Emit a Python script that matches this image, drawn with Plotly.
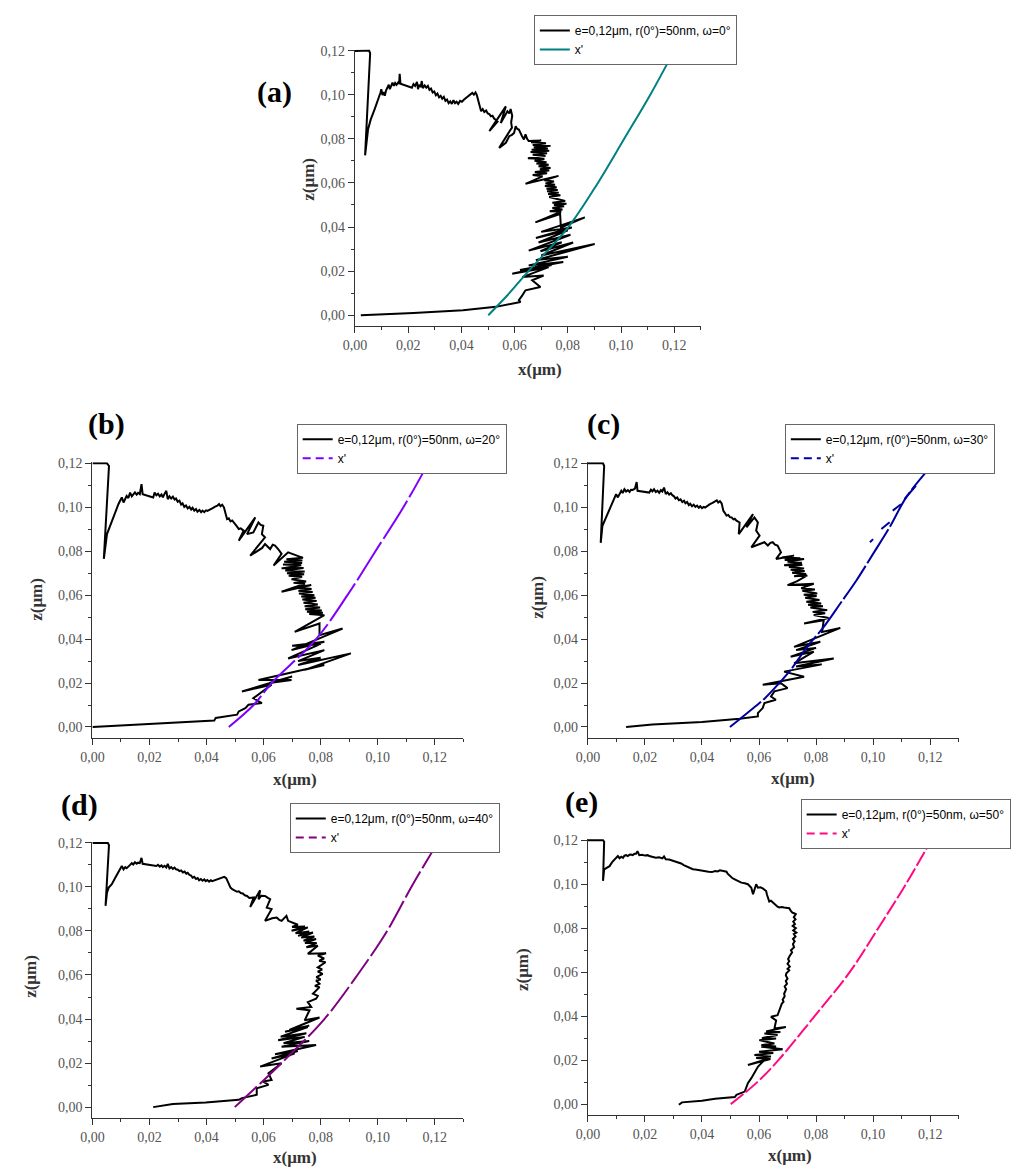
import plotly.graph_objects as go

# browser body margin (8 px) is compensated: the figure is drawn 8 px smaller
OFF = 8
W, H = 1021 - OFF, 1167 - OFF

# ---------------- data ----------------
x_tick_vals = [0.00, 0.02, 0.04, 0.06, 0.08, 0.10, 0.12]
x_tick_text = ["0,00", "0,02", "0,04", "0,06", "0,08", "0,10", "0,12"]
z_tick_vals = [0.00, 0.02, 0.04, 0.06, 0.08, 0.10, 0.12]
z_tick_text = ["0,00", "0,02", "0,04", "0,06", "0,08", "0,10", "0,12"]

omega_labels = ["0°", "20°", "30°", "40°", "50°"]
panel_letters = ["(a)", "(b)", "(c)", "(d)", "(e)"]

# (a) omega = 0
a_black = [
    (0.0000, 0.1198), (0.0053, 0.1200), (0.0057, 0.1188), (0.0038, 0.0725), (0.0049, 0.0842), (0.0059, 0.0887), (0.0074, 0.0935),
    (0.0090, 0.0985), (0.0096, 0.1010), (0.0099, 0.1025), (0.0103, 0.0998), (0.0108, 0.1012), (0.0112, 0.0995), (0.0117, 0.1020),
    (0.0122, 0.1030), (0.0127, 0.1045), (0.0131, 0.1025), (0.0136, 0.1040), (0.0141, 0.1055), (0.0146, 0.1040), (0.0151, 0.1053),
    (0.0156, 0.1045), (0.0162, 0.1055), (0.0166, 0.1050), (0.0168, 0.1095), (0.0171, 0.1050), (0.0214, 0.1032), (0.0220, 0.1048),
    (0.0226, 0.1040), (0.0233, 0.1058), (0.0237, 0.1025), (0.0241, 0.1045), (0.0247, 0.1035), (0.0251, 0.1062), (0.0255, 0.1030),
    (0.0262, 0.1042), (0.0268, 0.1032), (0.0274, 0.1040), (0.0280, 0.1022), (0.0286, 0.1028), (0.0292, 0.1010), (0.0298, 0.1015),
    (0.0304, 0.0998), (0.0310, 0.1005), (0.0316, 0.0988), (0.0322, 0.0995), (0.0328, 0.0982), (0.0334, 0.0990), (0.0340, 0.0972),
    (0.0346, 0.0978), (0.0352, 0.0962), (0.0358, 0.0970), (0.0364, 0.0958), (0.0370, 0.0975), (0.0376, 0.0962), (0.0382, 0.0968),
    (0.0388, 0.0958), (0.0395, 0.0972), (0.0402, 0.0968), (0.0410, 0.0978), (0.0418, 0.0985), (0.0426, 0.0995), (0.0434, 0.1000),
    (0.0441, 0.1008), (0.0447, 0.1000), (0.0453, 0.1010), (0.0458, 0.0998), (0.0461, 0.0985), (0.0466, 0.0960), (0.0469, 0.0942),
    (0.0474, 0.0925), (0.0480, 0.0935), (0.0486, 0.0922), (0.0493, 0.0928), (0.0499, 0.0915), (0.0505, 0.0912), (0.0511, 0.0902),
    (0.0517, 0.0905), (0.0523, 0.0892), (0.0530, 0.0885), (0.0536, 0.0878), (0.0505, 0.0835), (0.0567, 0.0947), (0.0548, 0.0872),
    (0.0560, 0.0895), (0.0573, 0.0925), (0.0580, 0.0915), (0.0585, 0.0935), (0.0591, 0.0905), (0.0587, 0.0875), (0.0590, 0.0850),
    (0.0585, 0.0842), (0.0542, 0.0759), (0.0567, 0.0782), (0.0575, 0.0800), (0.0580, 0.0812), (0.0590, 0.0818), (0.0598, 0.0827),
    (0.0604, 0.0857), (0.0610, 0.0845), (0.0616, 0.0842), (0.0622, 0.0825), (0.0628, 0.0812), (0.0635, 0.0797), (0.0641, 0.0820),
    (0.0647, 0.0800), (0.0653, 0.0790), (0.0700, 0.0792), (0.0662, 0.0784), (0.0718, 0.0780), (0.0668, 0.0772), (0.0735, 0.0768),
    (0.0672, 0.0762), (0.0725, 0.0756), (0.0664, 0.0750), (0.0730, 0.0746), (0.0660, 0.0740), (0.0722, 0.0734), (0.0668, 0.0728),
    (0.0716, 0.0722), (0.0650, 0.0712), (0.0712, 0.0708), (0.0675, 0.0700), (0.0720, 0.0694), (0.0682, 0.0688), (0.0728, 0.0682),
    (0.0690, 0.0676), (0.0735, 0.0668), (0.0695, 0.0662), (0.0730, 0.0656), (0.0676, 0.0650), (0.0722, 0.0644), (0.0668, 0.0636),
    (0.0705, 0.0630), (0.0641, 0.0596), (0.0765, 0.0632), (0.0712, 0.0612), (0.0748, 0.0606), (0.0716, 0.0598), (0.0752, 0.0592),
    (0.0714, 0.0586), (0.0758, 0.0580), (0.0720, 0.0574), (0.0762, 0.0568), (0.0722, 0.0562), (0.0766, 0.0556), (0.0726, 0.0550),
    (0.0772, 0.0544), (0.0730, 0.0536), (0.0790, 0.0518), (0.0742, 0.0510), (0.0795, 0.0506), (0.0748, 0.0500), (0.0786, 0.0494),
    (0.0742, 0.0486), (0.0780, 0.0480), (0.0732, 0.0472), (0.0775, 0.0470), (0.0678, 0.0421), (0.0771, 0.0459), (0.0774, 0.0398),
    (0.0864, 0.0444), (0.0700, 0.0378), (0.0815, 0.0398), (0.0680, 0.0350), (0.0800, 0.0385), (0.0690, 0.0330), (0.0810, 0.0365),
    (0.0653, 0.0293), (0.0777, 0.0331), (0.0697, 0.0290), (0.0820, 0.0330), (0.0700, 0.0271), (0.0901, 0.0323), (0.0680, 0.0250),
    (0.0800, 0.0265), (0.0653, 0.0226), (0.0783, 0.0241), (0.0620, 0.0205), (0.0740, 0.0228), (0.0591, 0.0188), (0.0728, 0.0218),
    (0.0629, 0.0173), (0.0709, 0.0180), (0.0666, 0.0158), (0.0697, 0.0128), (0.0662, 0.0120), (0.0641, 0.0113), (0.0629, 0.0090),
    (0.0616, 0.0068), (0.0622, 0.0060), (0.0567, 0.0045), (0.0530, 0.0038), (0.0406, 0.0023), (0.0220, 0.0010), (0.0022, 0.0000)]
a_xp_x = [0.0501, 0.0580, 0.0652, 0.0802, 0.0913, 0.1012, 0.1110, 0.1200]
a_xp_z = [0.000, 0.010, 0.020, 0.040, 0.060, 0.080, 0.100, 0.120]

# (b) omega = 20
b_black = [
    (0.0000, 0.1200), (0.0051, 0.1200), (0.0058, 0.1188), (0.0040, 0.0765), (0.0051, 0.0878), (0.0062, 0.0916), (0.0074, 0.0962),
    (0.0091, 0.1014), (0.0097, 0.1030), (0.0103, 0.1045), (0.0109, 0.1022), (0.0114, 0.1040), (0.0120, 0.1052), (0.0126, 0.1042),
    (0.0132, 0.1067), (0.0138, 0.1050), (0.0143, 0.1060), (0.0149, 0.1068), (0.0155, 0.1058), (0.0160, 0.1066), (0.0166, 0.1060),
    (0.0172, 0.1105), (0.0176, 0.1060), (0.0213, 0.1045), (0.0218, 0.1067), (0.0224, 0.1055), (0.0230, 0.1062), (0.0236, 0.1050),
    (0.0242, 0.1058), (0.0247, 0.1045), (0.0253, 0.1062), (0.0259, 0.1075), (0.0264, 0.1037), (0.0270, 0.1050), (0.0276, 0.1040),
    (0.0282, 0.1048), (0.0288, 0.1035), (0.0293, 0.1040), (0.0299, 0.1025), (0.0305, 0.1030), (0.0311, 0.1012), (0.0316, 0.1018),
    (0.0322, 0.1002), (0.0328, 0.1008), (0.0334, 0.0995), (0.0340, 0.1002), (0.0346, 0.0990), (0.0351, 0.0998), (0.0357, 0.0985),
    (0.0363, 0.0992), (0.0368, 0.0980), (0.0375, 0.0988), (0.0381, 0.0978), (0.0386, 0.0985), (0.0392, 0.0978), (0.0398, 0.0986),
    (0.0403, 0.0984), (0.0410, 0.0990), (0.0420, 0.0995), (0.0430, 0.1003), (0.0438, 0.1007), (0.0444, 0.1015), (0.0449, 0.1005),
    (0.0455, 0.1012), (0.0461, 0.1000), (0.0465, 0.0980), (0.0467, 0.0970), (0.0472, 0.0946), (0.0478, 0.0950), (0.0484, 0.0936),
    (0.0490, 0.0940), (0.0496, 0.0928), (0.0501, 0.0924), (0.0507, 0.0912), (0.0513, 0.0901), (0.0520, 0.0904), (0.0530, 0.0894),
    (0.0513, 0.0848), (0.0571, 0.0954), (0.0542, 0.0878), (0.0564, 0.0886), (0.0572, 0.0905), (0.0582, 0.0931), (0.0590, 0.0920),
    (0.0599, 0.0916), (0.0594, 0.0878), (0.0605, 0.0863), (0.0553, 0.0780), (0.0582, 0.0803), (0.0595, 0.0815), (0.0605, 0.0833),
    (0.0614, 0.0820), (0.0623, 0.0810), (0.0632, 0.0830), (0.0640, 0.0826), (0.0651, 0.0810), (0.0663, 0.0788), (0.0635, 0.0735),
    (0.0686, 0.0795), (0.0738, 0.0770), (0.0680, 0.0764), (0.0736, 0.0758), (0.0672, 0.0752), (0.0735, 0.0746), (0.0668, 0.0740),
    (0.0732, 0.0736), (0.0663, 0.0722), (0.0740, 0.0724), (0.0676, 0.0712), (0.0744, 0.0708), (0.0682, 0.0700), (0.0742, 0.0695),
    (0.0688, 0.0688), (0.0735, 0.0684), (0.0698, 0.0672), (0.0749, 0.0662), (0.0705, 0.0656), (0.0745, 0.0652), (0.0663, 0.0616),
    (0.0767, 0.0646), (0.0720, 0.0636), (0.0768, 0.0628), (0.0722, 0.0620), (0.0772, 0.0614), (0.0724, 0.0608), (0.0778, 0.0600),
    (0.0732, 0.0594), (0.0782, 0.0588), (0.0736, 0.0580), (0.0786, 0.0574), (0.0740, 0.0566), (0.0790, 0.0558), (0.0744, 0.0550),
    (0.0798, 0.0544), (0.0746, 0.0536), (0.0804, 0.0530), (0.0752, 0.0524), (0.0808, 0.0520), (0.0760, 0.0514), (0.0813, 0.0509),
    (0.0709, 0.0433), (0.0796, 0.0471), (0.0796, 0.0418), (0.0877, 0.0448), (0.0698, 0.0350), (0.0813, 0.0388), (0.0700, 0.0370),
    (0.0800, 0.0378), (0.0686, 0.0312), (0.0813, 0.0350), (0.0721, 0.0300), (0.0800, 0.0315), (0.0721, 0.0282), (0.0906, 0.0335),
    (0.0744, 0.0260), (0.0813, 0.0282), (0.0582, 0.0214), (0.0698, 0.0214), (0.0620, 0.0200), (0.0700, 0.0230), (0.0524, 0.0162),
    (0.0628, 0.0192), (0.0564, 0.0131), (0.0594, 0.0109), (0.0547, 0.0101), (0.0536, 0.0086), (0.0513, 0.0071), (0.0507, 0.0056),
    (0.0432, 0.0041), (0.0427, 0.0029), (0.0282, 0.0018), (0.0166, 0.0011), (0.0000, 0.0000)]
b_xp_x = [0.0478, 0.0565, 0.0628, 0.0784, 0.0894, 0.0992, 0.1090, 0.1177]
b_xp_z = [0.000, 0.010, 0.020, 0.040, 0.060, 0.080, 0.100, 0.120]

# (c) omega = 30
c_black = [
    (0.0000, 0.1200), (0.0053, 0.1200), (0.0057, 0.1188), (0.0045, 0.0838), (0.0051, 0.0916), (0.0059, 0.0939), (0.0070, 0.0977),
    (0.0088, 0.1022), (0.0094, 0.1040), (0.0099, 0.1060), (0.0105, 0.1045), (0.0111, 0.1062), (0.0117, 0.1075), (0.0122, 0.1065),
    (0.0128, 0.1082), (0.0134, 0.1072), (0.0140, 0.1078), (0.0146, 0.1070), (0.0151, 0.1080), (0.0157, 0.1079), (0.0165, 0.1085),
    (0.0171, 0.1115), (0.0174, 0.1075), (0.0215, 0.1067), (0.0221, 0.1080), (0.0226, 0.1072), (0.0232, 0.1082), (0.0238, 0.1070),
    (0.0244, 0.1076), (0.0250, 0.1066), (0.0256, 0.1078), (0.0261, 0.1072), (0.0267, 0.1090), (0.0273, 0.1060), (0.0279, 0.1068),
    (0.0285, 0.1058), (0.0291, 0.1064), (0.0296, 0.1055), (0.0302, 0.1050), (0.0307, 0.1040), (0.0313, 0.1045), (0.0319, 0.1032),
    (0.0325, 0.1036), (0.0331, 0.1024), (0.0337, 0.1030), (0.0342, 0.1018), (0.0348, 0.1024), (0.0354, 0.1010), (0.0359, 0.1016),
    (0.0365, 0.1005), (0.0371, 0.1012), (0.0377, 0.1002), (0.0383, 0.1008), (0.0389, 0.0998), (0.0394, 0.1005), (0.0400, 0.0996),
    (0.0406, 0.1002), (0.0411, 0.0999), (0.0420, 0.1008), (0.0428, 0.1014), (0.0437, 0.1020), (0.0446, 0.1025), (0.0452, 0.1032),
    (0.0457, 0.1022), (0.0463, 0.1028), (0.0469, 0.1018), (0.0472, 0.1000), (0.0475, 0.0984), (0.0480, 0.0975), (0.0486, 0.0962),
    (0.0492, 0.0965), (0.0498, 0.0955), (0.0504, 0.0954), (0.0510, 0.0945), (0.0515, 0.0948), (0.0521, 0.0939), (0.0532, 0.0931),
    (0.0529, 0.0878), (0.0579, 0.0969), (0.0556, 0.0909), (0.0584, 0.0954), (0.0590, 0.0940), (0.0596, 0.0931), (0.0590, 0.0894),
    (0.0602, 0.0871), (0.0573, 0.0818), (0.0619, 0.0841), (0.0631, 0.0826), (0.0640, 0.0838), (0.0648, 0.0841), (0.0656, 0.0830),
    (0.0665, 0.0826), (0.0677, 0.0795), (0.0660, 0.0765), (0.0723, 0.0780), (0.0680, 0.0772), (0.0745, 0.0768), (0.0690, 0.0760),
    (0.0758, 0.0765), (0.0700, 0.0752), (0.0750, 0.0748), (0.0688, 0.0736), (0.0752, 0.0738), (0.0705, 0.0728), (0.0758, 0.0722),
    (0.0711, 0.0716), (0.0760, 0.0710), (0.0716, 0.0702), (0.0765, 0.0696), (0.0723, 0.0686), (0.0769, 0.0690), (0.0734, 0.0664),
    (0.0700, 0.0646), (0.0792, 0.0652), (0.0748, 0.0632), (0.0796, 0.0626), (0.0752, 0.0620), (0.0804, 0.0608), (0.0757, 0.0602),
    (0.0802, 0.0596), (0.0762, 0.0588), (0.0812, 0.0578), (0.0766, 0.0570), (0.0818, 0.0562), (0.0772, 0.0556), (0.0824, 0.0550),
    (0.0780, 0.0544), (0.0839, 0.0532), (0.0788, 0.0524), (0.0832, 0.0518), (0.0792, 0.0510), (0.0844, 0.0496), (0.0758, 0.0471),
    (0.0827, 0.0486), (0.0821, 0.0433), (0.0885, 0.0451), (0.0723, 0.0365), (0.0815, 0.0388), (0.0730, 0.0350), (0.0800, 0.0360),
    (0.0711, 0.0320), (0.0792, 0.0343), (0.0723, 0.0290), (0.0862, 0.0312), (0.0730, 0.0275), (0.0820, 0.0285), (0.0688, 0.0252),
    (0.0758, 0.0229), (0.0613, 0.0192), (0.0677, 0.0199), (0.0700, 0.0177), (0.0654, 0.0162), (0.0642, 0.0139), (0.0659, 0.0124),
    (0.0619, 0.0109), (0.0613, 0.0086), (0.0596, 0.0063), (0.0596, 0.0048), (0.0532, 0.0038), (0.0400, 0.0023), (0.0226, 0.0011),
    (0.0134, 0.0000)]
c_xp_x = [0.0498, 0.0560, 0.0620, 0.0671, 0.0711, 0.0769, 0.0827, 0.0885, 0.0942, 0.1000, 0.1058, 0.1116, 0.1191]
c_xp_z = [0.000, 0.0065, 0.013, 0.020, 0.026, 0.0365, 0.0456, 0.0562, 0.0668, 0.0788, 0.0909, 0.1045, 0.1168]
c_xp2_x = [0.0989, 0.1000, None, 0.1029, 0.1058, None, 0.1069, 0.1098, None, 0.1110, 0.1150]
c_xp2_z = [0.0841, 0.0855, None, 0.0901, 0.0932, None, 0.0985, 0.1014, None, 0.1037, 0.1098]

# (d) omega = 40
d_black = [
    (0.0000, 0.1200), (0.0054, 0.1200), (0.0058, 0.1189), (0.0046, 0.0914), (0.0051, 0.0974), (0.0057, 0.0997), (0.0068, 0.1012),
    (0.0080, 0.1042), (0.0090, 0.1065), (0.0097, 0.1080), (0.0103, 0.1095), (0.0109, 0.1080), (0.0115, 0.1090), (0.0120, 0.1085),
    (0.0126, 0.1095), (0.0132, 0.1100), (0.0138, 0.1108), (0.0143, 0.1102), (0.0149, 0.1112), (0.0155, 0.1105), (0.0160, 0.1110),
    (0.0166, 0.1108), (0.0172, 0.1132), (0.0176, 0.1105), (0.0224, 0.1095), (0.0230, 0.1100), (0.0236, 0.1092), (0.0242, 0.1098),
    (0.0247, 0.1090), (0.0253, 0.1096), (0.0259, 0.1088), (0.0264, 0.1105), (0.0270, 0.1084), (0.0276, 0.1090), (0.0282, 0.1082),
    (0.0288, 0.1088), (0.0293, 0.1080), (0.0299, 0.1078), (0.0305, 0.1072), (0.0311, 0.1075), (0.0317, 0.1066), (0.0323, 0.1070),
    (0.0329, 0.1060), (0.0334, 0.1064), (0.0340, 0.1055), (0.0346, 0.1052), (0.0351, 0.1042), (0.0357, 0.1046), (0.0363, 0.1036),
    (0.0369, 0.1040), (0.0374, 0.1030), (0.0380, 0.1036), (0.0386, 0.1028), (0.0392, 0.1034), (0.0397, 0.1026), (0.0403, 0.1031),
    (0.0409, 0.1024), (0.0415, 0.1030), (0.0420, 0.1026), (0.0428, 0.1030), (0.0438, 0.1032), (0.0446, 0.1038), (0.0455, 0.1042),
    (0.0462, 0.1046), (0.0469, 0.1040), (0.0474, 0.1025), (0.0478, 0.1010), (0.0484, 0.0997), (0.0490, 0.0990), (0.0496, 0.0985),
    (0.0501, 0.0982), (0.0507, 0.0978), (0.0513, 0.0980), (0.0520, 0.0972), (0.0527, 0.0970), (0.0534, 0.0962), (0.0542, 0.0959),
    (0.0550, 0.0950), (0.0565, 0.0952), (0.0553, 0.0909), (0.0588, 0.0985), (0.0582, 0.0944), (0.0592, 0.0960), (0.0605, 0.0959),
    (0.0615, 0.0950), (0.0623, 0.0944), (0.0611, 0.0906), (0.0628, 0.0899), (0.0605, 0.0846), (0.0630, 0.0858), (0.0646, 0.0861),
    (0.0655, 0.0850), (0.0663, 0.0846), (0.0672, 0.0860), (0.0680, 0.0869), (0.0686, 0.0846), (0.0698, 0.0840), (0.0709, 0.0831),
    (0.0720, 0.0828), (0.0700, 0.0818), (0.0745, 0.0820), (0.0698, 0.0801), (0.0755, 0.0816), (0.0712, 0.0790), (0.0760, 0.0798),
    (0.0721, 0.0778), (0.0773, 0.0793), (0.0732, 0.0770), (0.0778, 0.0775), (0.0740, 0.0756), (0.0784, 0.0763), (0.0745, 0.0745),
    (0.0786, 0.0745), (0.0750, 0.0726), (0.0790, 0.0733), (0.0755, 0.0696), (0.0819, 0.0699), (0.0790, 0.0688), (0.0812, 0.0675),
    (0.0795, 0.0665), (0.0817, 0.0658), (0.0790, 0.0635), (0.0805, 0.0625), (0.0790, 0.0615), (0.0807, 0.0605), (0.0785, 0.0590),
    (0.0800, 0.0580), (0.0784, 0.0575), (0.0796, 0.0560), (0.0780, 0.0550), (0.0796, 0.0545), (0.0773, 0.0515), (0.0790, 0.0505),
    (0.0784, 0.0492), (0.0755, 0.0477), (0.0767, 0.0455), (0.0715, 0.0447), (0.0761, 0.0440), (0.0744, 0.0394), (0.0796, 0.0407),
    (0.0690, 0.0350), (0.0760, 0.0370), (0.0675, 0.0342), (0.0755, 0.0364), (0.0660, 0.0320), (0.0750, 0.0335), (0.0651, 0.0304),
    (0.0744, 0.0319), (0.0670, 0.0290), (0.0760, 0.0300), (0.0663, 0.0274), (0.0784, 0.0282), (0.0640, 0.0240), (0.0720, 0.0255),
    (0.0628, 0.0221), (0.0709, 0.0244), (0.0588, 0.0184), (0.0663, 0.0199), (0.0617, 0.0154), (0.0628, 0.0123), (0.0599, 0.0116),
    (0.0617, 0.0101), (0.0576, 0.0086), (0.0576, 0.0056), (0.0524, 0.0041), (0.0513, 0.0033), (0.0397, 0.0021), (0.0282, 0.0014),
    (0.0213, 0.0000)]
d_xp_x = [0.0499, 0.0582, 0.0663, 0.0813, 0.0929, 0.1033, 0.1118, 0.1192]
d_xp_z = [0.000, 0.010, 0.020, 0.040, 0.060, 0.080, 0.100, 0.1162]

# (e) omega = 50
e_black = [
    (0.0000, 0.1200), (0.0053, 0.1200), (0.0057, 0.1193), (0.0053, 0.1015), (0.0057, 0.1067), (0.0065, 0.1075), (0.0076, 0.1082),
    (0.0085, 0.1100), (0.0094, 0.1113), (0.0100, 0.1125), (0.0105, 0.1128), (0.0111, 0.1118), (0.0117, 0.1125), (0.0123, 0.1120),
    (0.0128, 0.1130), (0.0134, 0.1132), (0.0140, 0.1128), (0.0146, 0.1134), (0.0151, 0.1135), (0.0157, 0.1132), (0.0163, 0.1138),
    (0.0169, 0.1138), (0.0174, 0.1150), (0.0180, 0.1132), (0.0190, 0.1134), (0.0200, 0.1130), (0.0210, 0.1132), (0.0215, 0.1128),
    (0.0226, 0.1125), (0.0238, 0.1120), (0.0250, 0.1122), (0.0261, 0.1117), (0.0267, 0.1126), (0.0273, 0.1113), (0.0285, 0.1112),
    (0.0296, 0.1108), (0.0308, 0.1104), (0.0319, 0.1098), (0.0327, 0.1094), (0.0336, 0.1087), (0.0344, 0.1082), (0.0353, 0.1075),
    (0.0360, 0.1072), (0.0368, 0.1068), (0.0377, 0.1067), (0.0388, 0.1064), (0.0400, 0.1063), (0.0412, 0.1058), (0.0423, 0.1057),
    (0.0435, 0.1055), (0.0446, 0.1060), (0.0455, 0.1058), (0.0463, 0.1063), (0.0475, 0.1060), (0.0486, 0.1057), (0.0490, 0.1048),
    (0.0498, 0.1037), (0.0506, 0.1028), (0.0515, 0.1022), (0.0526, 0.1015), (0.0538, 0.1007), (0.0550, 0.1004), (0.0561, 0.1000),
    (0.0567, 0.0992), (0.0573, 0.0984), (0.0579, 0.0954), (0.0590, 0.1000), (0.0596, 0.0984), (0.0605, 0.0986), (0.0613, 0.0981),
    (0.0620, 0.0975), (0.0625, 0.0969), (0.0628, 0.0952), (0.0631, 0.0939), (0.0636, 0.0921), (0.0642, 0.0925), (0.0648, 0.0917),
    (0.0654, 0.0910), (0.0660, 0.0902), (0.0665, 0.0898), (0.0671, 0.0894), (0.0680, 0.0896), (0.0688, 0.0894), (0.0697, 0.0892),
    (0.0706, 0.0891), (0.0711, 0.0880), (0.0717, 0.0871), (0.0723, 0.0868), (0.0729, 0.0864), (0.0722, 0.0850), (0.0728, 0.0840),
    (0.0720, 0.0830), (0.0726, 0.0819), (0.0718, 0.0810), (0.0729, 0.0800), (0.0720, 0.0790), (0.0731, 0.0780), (0.0722, 0.0773),
    (0.0728, 0.0762), (0.0719, 0.0751), (0.0725, 0.0740), (0.0719, 0.0728), (0.0723, 0.0713), (0.0712, 0.0700), (0.0716, 0.0690),
    (0.0708, 0.0675), (0.0702, 0.0660), (0.0706, 0.0650), (0.0700, 0.0638), (0.0708, 0.0625), (0.0700, 0.0615), (0.0706, 0.0608),
    (0.0696, 0.0595), (0.0694, 0.0585), (0.0700, 0.0570), (0.0694, 0.0560), (0.0698, 0.0547), (0.0690, 0.0535), (0.0695, 0.0522),
    (0.0688, 0.0502), (0.0690, 0.0490), (0.0683, 0.0475), (0.0686, 0.0465), (0.0680, 0.0457), (0.0676, 0.0445), (0.0671, 0.0427),
    (0.0665, 0.0404), (0.0642, 0.0397), (0.0660, 0.0381), (0.0654, 0.0344), (0.0694, 0.0351), (0.0625, 0.0330), (0.0675, 0.0328),
    (0.0619, 0.0321), (0.0665, 0.0314), (0.0610, 0.0300), (0.0660, 0.0298), (0.0601, 0.0291), (0.0654, 0.0276), (0.0608, 0.0268),
    (0.0660, 0.0262), (0.0608, 0.0261), (0.0683, 0.0249), (0.0600, 0.0238), (0.0650, 0.0232), (0.0584, 0.0223), (0.0642, 0.0216),
    (0.0590, 0.0210), (0.0640, 0.0205), (0.0561, 0.0178), (0.0619, 0.0201), (0.0596, 0.0170), (0.0584, 0.0140), (0.0573, 0.0118),
    (0.0561, 0.0095), (0.0556, 0.0072), (0.0550, 0.0057), (0.0521, 0.0042), (0.0515, 0.0032), (0.0446, 0.0024), (0.0400, 0.0015),
    (0.0330, 0.0008), (0.0319, -0.0003)]
e_xp_x = [0.0501, 0.0594, 0.0668, 0.0795, 0.0918, 0.1018, 0.1115, 0.1202]
e_xp_z = [0.000, 0.010, 0.020, 0.040, 0.060, 0.080, 0.100, 0.1196]

xp_colors = ["#008080", "#7F00FF", "#0000A0", "#800080", "#FF0A82"]

# ---------------- layout geometry (reference-image pixels) ----------------
panels = [
    dict(x0=347, x1=697, yt=44.8, yb=310.8),
    dict(x0=81.3, x1=456.6, yt=459.7, yb=724.7),
    dict(x0=582.7, x1=957.9, yt=459.7, yb=724.7),
    dict(x0=81.3, x1=456.6, yt=841.2, yb=1106.8),
    dict(x0=582.7, x1=957.9, yt=838.5, yb=1103.8),
]
Z_LO, Z_HI = -0.005, 0.1205


def fx(px):
    return (px - OFF) / W


def fy(py):
    return 1 - (py - OFF) / H


serif = "Liberation Serif"
sans = "Liberation Sans"

fig = go.Figure()
layout = dict(width=W, height=H, margin=dict(l=0, r=0, t=0, b=0),
              paper_bgcolor="white", plot_bgcolor="white", showlegend=True,
              annotations=[])

blacks = [a_black, b_black, c_black, d_black, e_black]
xps = [(a_xp_x, a_xp_z), (b_xp_x, b_xp_z), (c_xp_x, c_xp_z), (d_xp_x, d_xp_z), (e_xp_x, e_xp_z)]
curve_dash = ["solid", "45px,4px", "40px,3px", "30px,4px", "16px,3px"]

legend_pos = [(528, 9), (288, 420), (782, 420), (281, 801), (798, 797)]
letter_pos = [(266, 86), (96, 420), (598, 420), (68, 803), (576, 800)]
ztitle_pos = [(300, 174), (25, 596), (532, 594), (19, 975), (516, 968)]
xtitle_pos = [(534, 365), (286, 777), (790, 776), (286, 1157), (787, 1155)]

for i, p in enumerate(panels):
    sfx = "" if i == 0 else str(i + 1)
    xa, ya = "x" + sfx, "y" + sfx
    lg = "legend" + sfx
    ppu_z = (p["yb"] - p["yt"]) / 0.12
    py_top = p["yb"] - Z_HI * ppu_z
    py_bot = p["yb"] - Z_LO * ppu_z
    xdom = [fx(p["x0"]), fx(p["x1"])]
    ydom = [fy(py_bot), fy(py_top)]
    axis_common = dict(ticks="outside", ticklen=6, tickwidth=1, tickcolor="#333",
                       showline=True, linecolor="#333", linewidth=1.2,
                       showgrid=False, zeroline=False,
                       tickfont=dict(family=serif, size=14, color="#555"))
    minor = dict(tickmode="linear", tick0=0, dtick=0.01, ticks="outside",
                 ticklen=3, tickcolor="#333", showgrid=False)
    layout["xaxis" + sfx] = dict(domain=xdom, range=[0, 0.13], anchor=ya,
                                 tickmode="array", tickvals=x_tick_vals, ticktext=x_tick_text,
                                 minor=minor, **axis_common)
    layout["yaxis" + sfx] = dict(domain=ydom, range=[Z_LO, Z_HI], anchor=xa,
                                 tickmode="array", tickvals=z_tick_vals, ticktext=z_tick_text,
                                 minor=minor, **axis_common)
    lx, ly = legend_pos[i]
    layout[lg] = dict(x=fx(lx), y=fy(ly), xanchor="left", yanchor="top",
                      xref="paper", yref="paper",
                      bgcolor="white", bordercolor="#666", borderwidth=1,
                      font=dict(family=sans, size=12, color="black"),
                      itemwidth=30, tracegroupgap=0)

    bx = [pt[0] for pt in blacks[i]]
    bz = [pt[1] for pt in blacks[i]]
    fig.add_trace(go.Scatter(x=bx, y=bz, mode="lines", xaxis=xa, yaxis=ya, legend=lg,
                             name="e=0,12μm, r(0°)=50nm, ω=" + omega_labels[i],
                             line=dict(color="black", width=2)))
    qx, qz = xps[i]
    if i == 0:
        fig.add_trace(go.Scatter(x=qx, y=qz, mode="lines", xaxis=xa, yaxis=ya, legend=lg,
                                 name="x'", line=dict(color=xp_colors[i], width=2, shape="spline")))
    else:
        fig.add_trace(go.Scatter(x=qx, y=qz, mode="lines", xaxis=xa, yaxis=ya, legend=lg,
                                 name="x'", showlegend=False,
                                 line=dict(color=xp_colors[i], width=2, shape="spline", dash=curve_dash[i])))
        if i == 2:
            fig.add_trace(go.Scatter(x=c_xp2_x, y=c_xp2_z, mode="lines", xaxis=xa, yaxis=ya,
                                     legend=lg, showlegend=False, connectgaps=False,
                                     line=dict(color=xp_colors[i], width=2)))
        fig.add_trace(go.Scatter(x=[None], y=[None], mode="lines", xaxis=xa, yaxis=ya, legend=lg,
                                 name="x'", line=dict(color=xp_colors[i], width=2, dash="8px,5px")))

    tx, ty = letter_pos[i]
    layout["annotations"].append(dict(x=fx(tx), y=fy(ty), xref="paper", yref="paper",
                                      text="<b>" + panel_letters[i] + "</b>", showarrow=False,
                                      font=dict(family=serif, size=30, color="black"),
                                      xanchor="center", yanchor="middle"))
    zx_, zy_ = ztitle_pos[i]
    layout["annotations"].append(dict(x=fx(zx_), y=fy(zy_), xref="paper", yref="paper",
                                      text="<b>z(μm)</b>", showarrow=False, textangle=-90,
                                      font=dict(family=serif, size=17, color="#333"),
                                      xanchor="center", yanchor="middle"))
    xx_, xy_ = xtitle_pos[i]
    layout["annotations"].append(dict(x=fx(xx_), y=fy(xy_), xref="paper", yref="paper",
                                      text="<b>x(μm)</b>", showarrow=False,
                                      font=dict(family=serif, size=17, color="#333"),
                                      xanchor="center", yanchor="middle"))

fig.update_layout(**layout)
fig.write_html("out.html")
